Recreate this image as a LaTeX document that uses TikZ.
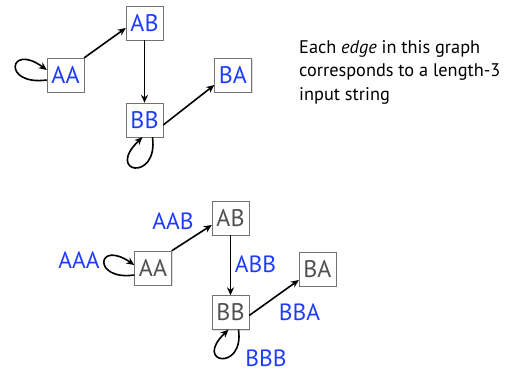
\documentclass[tikz,border=0pt]{standalone}
\usepackage{fontspec}
\setmainfont{PT Sans}
\usetikzlibrary{arrows.meta,shadows}
\definecolor{lblue}{RGB}{30,60,255}
\definecolor{lgray}{RGB}{80,80,80}
\tikzset{
  st/.style={draw=black!55, fill=white, minimum width=37bp, minimum height=34bp, inner sep=0pt,
    font=\fontsize{24bp}{25bp}\selectfont, drop shadow={opacity=0.25, shadow xshift=1bp, shadow yshift=-1bp}},
  stb/.style={st, text=lblue},
  stg/.style={st, text=lgray},
  lab/.style={text=lblue, font=\fontsize{23.5bp}{25bp}\selectfont, inner sep=0pt},
  edge/.style={-{Stealth[length=8bp,width=7bp]}, line width=1.6bp, black},
}
\begin{document}
\begin{tikzpicture}[x=1bp,y=-1bp]
\useasboundingbox (0,0) rectangle (525,372);
% top graph
\node[stb] (AA1) at (65.5,75) {AA};
\node[stb] (AB1) at (144.5,23) {AB};
\node[stb] (BA1) at (233,75) {BA};
\node[stb] (BB1) at (144.5,120) {BB};
\draw[edge] (AA1.north east) -- ([yshift=-5bp]AB1.west);
\draw[edge] (AB1.south) -- (BB1.north);
\draw[edge] ([yshift=-5bp]BB1.east) -- ([yshift=-10bp]BA1.west);
\draw[edge] ([yshift=-5bp]AA1.west) .. controls +(-45,6) and +(-38,-28) .. ([yshift=5bp]AA1.west);
\draw[edge] ([xshift=8bp]BB1.south) .. controls +(6,45) and +(-38,36) .. ([xshift=-2bp]BB1.south);
% text
\node[anchor=north west, align=left, inner sep=0pt, font=\fontsize{18.3bp}{23.5bp}\selectfont] (txt) at (299,40)
  {Each \emph{edge} in this graph\\corresponds to a length-3\\input string};
% bottom graph
\node[stg] (AA2) at (153,268) {AA};
\node[stg] (AB2) at (230.5,218) {AB};
\node[stg] (BA2) at (317.5,269) {BA};
\node[stg] (BB2) at (230.5,312.5) {BB};
\draw[edge] (AA2.north east) -- ([yshift=-7bp]AB2.west);
\draw[edge] (AB2.south) -- (BB2.north);
\draw[edge] ([yshift=-3bp]BB2.east) -- ([yshift=-11bp]BA2.west);
\draw[edge] ([yshift=-7bp]AA2.west) .. controls +(-42,6) and +(-38,-26) .. ([yshift=3bp]AA2.west);
\draw[edge] ([xshift=8bp]BB2.south) .. controls +(6,42) and +(-36,34) .. ([xshift=-2bp]BB2.south);
\node[lab] (l1) at (79,260) {AAA};
\node[lab] (l2) at (173,221) {AAB};
\node[lab] (l3) at (255.5,264) {ABB};
\node[lab] (l4) at (299.5,312) {BBA};
\node[lab] (l5) at (266,358) {BBB};
\end{tikzpicture}
\end{document}
